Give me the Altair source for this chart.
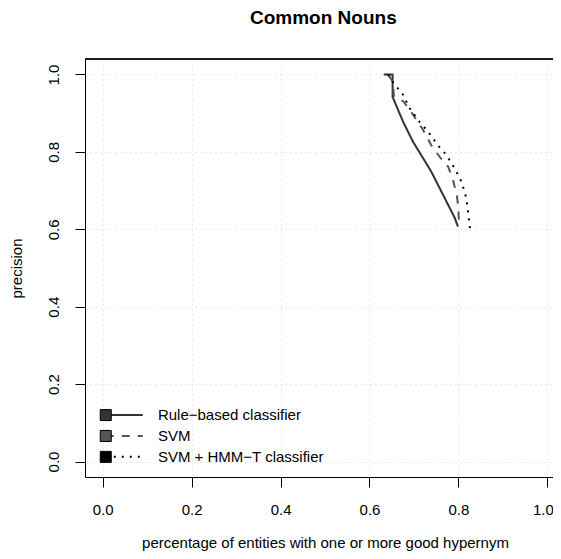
import altair as alt
import pandas as pd

# ---- data ----
series_names = ["Rule\u2212based classifier", "SVM", "SVM + HMM\u2212T classifier"]

rule_x = [0.632, 0.652, 0.652, 0.676, 0.698, 0.721, 0.739, 0.758, 0.777, 0.792, 0.799]
rule_y = [1.000, 1.000, 0.942, 0.877, 0.826, 0.783, 0.749, 0.706, 0.663, 0.629, 0.607]

svm_x = [0.642, 0.653, 0.655, 0.676, 0.694, 0.721, 0.739, 0.758, 0.777, 0.788, 0.797, 0.800, 0.801]
svm_y = [1.000, 0.980, 0.942, 0.931, 0.903, 0.856, 0.817, 0.787, 0.762, 0.727, 0.684, 0.654, 0.625]

hmm_x = [0.642, 0.657, 0.672, 0.691, 0.713, 0.732, 0.754, 0.773, 0.792, 0.807, 0.818, 0.822, 0.826]
hmm_y = [1.000, 0.972, 0.955, 0.912, 0.877, 0.852, 0.817, 0.792, 0.757, 0.723, 0.680, 0.642, 0.603]

tick_values = [0.0, 0.2, 0.4, 0.6, 0.8, 1.0]

# legend placement in data units (bottom-left of plot)
legend_y = [0.120, 0.066, 0.012]
legend_sq_x = 0.0067
legend_line_x2 = 0.09
legend_text_x = 0.124

series_colors = ["#333333", "#555555", "#000000"]
series_dash = [[1, 0], [8, 8], [2, 6]]

FONT = "Liberation Sans"
W, H = 468, 418
PX_PER_UNIT_X = 444.5

rows = []
for name, xs, ys in zip(series_names, [rule_x, svm_x, hmm_x], [rule_y, svm_y, hmm_y]):
    for i, (a, b) in enumerate(zip(xs, ys)):
        rows.append({"series": name, "x": a, "y": b, "i": i})
lines_df = pd.DataFrame(rows)

leg_df = pd.DataFrame({
    "series": series_names,
    "x": [legend_sq_x] * 3,
    "x2": [legend_line_x2] * 3,
    "tx": [legend_text_x] * 3,
    "y": legend_y,
})

xscale = alt.Scale(domain=[-0.04, -0.04 + W / PX_PER_UNIT_X], nice=False, zero=False)
yscale = alt.Scale(domain=[-0.04, 1.04], nice=False, zero=False)

grid_kw = dict(grid=True, gridColor="#d3d3d3", gridDash=[1, 4], gridWidth=1)

xaxis = alt.Axis(values=tick_values, format=".1f", tickSize=10, tickColor="black",
                 domain=True, domainColor="black", domainWidth=1,
                 labelFont=FONT, labelFontSize=15, labelColor="black",
                 labelBaseline="alphabetic", labelPadding=27,
                 labelFlush=10, labelFlushOffset=6,
                 title="percentage of entities with one or more good hypernym",
                 titleFont=FONT, titleFontSize=15, titleFontWeight="normal", titleColor="black",
                 titleBaseline="alphabetic", titleY=70, titleX=240,
                 **grid_kw)
yaxis = alt.Axis(values=tick_values, format=".1f", tickSize=10, tickColor="black",
                 domain=True, domainColor="black", domainWidth=1,
                 labelFont=FONT, labelFontSize=15, labelColor="black",
                 labelAngle=270, labelAlign="center", labelBaseline="alphabetic",
                 labelPadding=17, labelFlush=False,
                 title="precision", titleFont=FONT, titleFontSize=15, titleFontWeight="normal",
                 titleColor="black", titleAngle=270, titleAlign="center",
                 titleBaseline="alphabetic", titleX=-64, titleY=H / 2,
                 **grid_kw)

color = alt.Color("series:N", scale=alt.Scale(domain=series_names, range=series_colors), legend=None)
dash = alt.StrokeDash("series:N", scale=alt.Scale(domain=series_names, range=series_dash), legend=None)

lines = alt.Chart(lines_df).mark_line(strokeWidth=2, clip=True).encode(
    x=alt.X("x:Q", scale=xscale, axis=xaxis),
    y=alt.Y("y:Q", scale=yscale, axis=yaxis),
    color=color,
    strokeDash=dash,
    order="i:Q",
)

leg_lines = alt.Chart(leg_df).mark_rule(strokeWidth=2).encode(
    x=alt.X("x:Q", scale=xscale, axis=xaxis),
    x2="x2:Q",
    y=alt.Y("y:Q", scale=yscale, axis=yaxis),
    color=color,
    strokeDash=dash,
)

leg_squares = alt.Chart(leg_df).mark_square(size=121, opacity=1, stroke="black", strokeWidth=1).encode(
    x=alt.X("x:Q", scale=xscale, axis=xaxis),
    y=alt.Y("y:Q", scale=yscale, axis=yaxis),
    fill=alt.Fill("series:N", scale=alt.Scale(domain=series_names, range=series_colors), legend=None),
)

leg_text = alt.Chart(leg_df).mark_text(align="left", baseline="middle", font=FONT,
                                       fontSize=15, color="black").encode(
    x=alt.X("tx:Q", scale=xscale, axis=xaxis),
    y=alt.Y("y:Q", scale=yscale, axis=yaxis),
    text="series:N",
)

top_border = alt.Chart(leg_df).mark_rule(color="black", strokeWidth=1).encode(
    x=alt.value(0), x2=alt.value(W), y=alt.value(0)
)

chart = alt.layer(lines, leg_lines, leg_squares, leg_text, top_border).properties(
    width=W, height=H,
    title=alt.TitleParams("Common Nouns", font=FONT, fontSize=19, fontWeight="bold",
                          color="black", anchor="start", frame="group",
                          baseline="alphabetic", offset=16, dx=165),
    autosize=alt.AutoSizeParams(type="none"),
    padding={"left": 77, "top": 51, "right": 0, "bottom": 74},
).configure_view(stroke=None).configure(background="white")

chart.save("out.html", embed_options={"renderer": "svg", "actions": False})
